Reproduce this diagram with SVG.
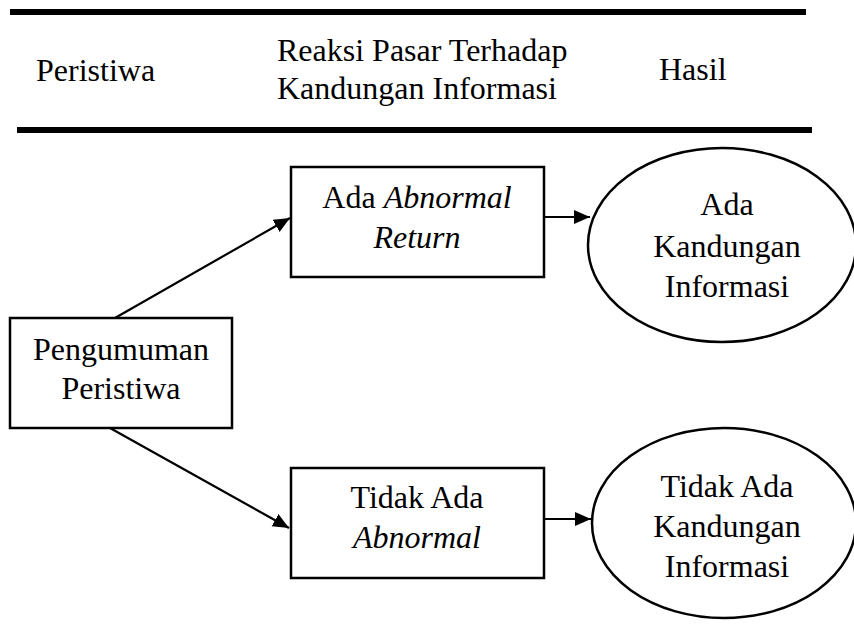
<svg xmlns="http://www.w3.org/2000/svg" width="854" height="635" viewBox="0 0 854 635">
<style>
text{font-family:"Liberation Serif","Times New Roman",serif;font-size:32px;fill:#000}
.c{text-anchor:middle}
.i{font-style:italic}
.box{fill:#fff;stroke:#000;stroke-width:2.5}
.conn{stroke:#000;stroke-width:2.2;fill:none}
.bar{stroke:#000;stroke-width:6}
</style>
<defs>
<marker id="ah" markerUnits="userSpaceOnUse" markerWidth="17" markerHeight="15" refX="16" refY="7" orient="auto">
<path d="M0,0 L16,7 L0,14 z" fill="#000"/>
</marker>
</defs>
<g id="header">
<line class="bar" x1="10" y1="12" x2="806" y2="12"/>
<line class="bar" x1="17" y1="130" x2="812" y2="130"/>
<text x="36" y="81">Peristiwa</text>
<text x="277" y="61">Reaksi Pasar Terhadap</text>
<text x="277" y="99">Kandungan Informasi</text>
<text x="659" y="80">Hasil</text>
</g>
<g id="connectors">
<line class="conn" x1="115" y1="318" x2="290" y2="218" marker-end="url(#ah)"/>
<line class="conn" x1="110" y1="428" x2="289" y2="528" marker-end="url(#ah)"/>
<line class="conn" x1="544" y1="217" x2="590" y2="217" marker-end="url(#ah)"/>
<line class="conn" x1="544" y1="519" x2="591" y2="519" marker-end="url(#ah)"/>
</g>
<g id="pengumuman">
<rect class="box" x="10" y="318" width="222" height="110"/>
<text class="c" x="121" y="360">Pengumuman</text>
<text class="c" x="121" y="399">Peristiwa</text>
</g>
<g id="ada-abnormal">
<rect class="box" x="291" y="167" width="253" height="110"/>
<text class="c" x="417" y="208">Ada <tspan class="i">Abnormal</tspan></text>
<text class="c i" x="417" y="248">Return</text>
</g>
<g id="tidak-ada-abnormal">
<rect class="box" x="291" y="468" width="253" height="110"/>
<text class="c" x="417" y="508">Tidak Ada</text>
<text class="c i" x="417" y="548">Abnormal</text>
</g>
<g id="ada-kandungan">
<ellipse class="box" cx="722" cy="245" rx="134" ry="97"/>
<text class="c" x="727" y="215">Ada</text>
<text class="c" x="727" y="257">Kandungan</text>
<text class="c" x="727" y="297">Informasi</text>
</g>
<g id="tidak-ada-kandungan">
<ellipse class="box" cx="724" cy="523" rx="132" ry="95"/>
<text class="c" x="727" y="497">Tidak Ada</text>
<text class="c" x="727" y="537">Kandungan</text>
<text class="c" x="727" y="577">Informasi</text>
</g>
</svg>
